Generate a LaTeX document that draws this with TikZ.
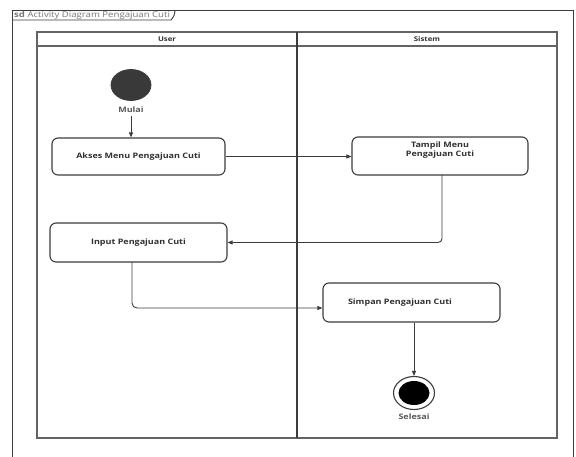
\documentclass[tikz,border=0pt]{standalone}
\usepackage{fontspec}
\setmainfont[FakeStretch=1.2]{Open Sans}
\usetikzlibrary{arrows.meta,shapes.geometric}
\definecolor{ln}{HTML}{3C3C3C}
\definecolor{tx}{HTML}{303030}
\begin{document}
\begin{tikzpicture}[x=1pt,y=-1pt,
  act/.style={draw=ln,line width=1.1pt,rounded corners=6pt,fill=white,inner sep=0pt},
  lbl/.style={font=\fontsize{7.5}{9.5}\selectfont\bfseries,text=tx,inner sep=0pt,align=center},
  flow/.style={draw=ln,line width=0.9pt,-{Triangle[length=5pt,width=4pt]}},
  lane/.style={draw=ln!80,line width=1.4pt}]
\useasboundingbox (0,0) rectangle (576,456);
\fill[white] (0,0) rectangle (576,456);
% frame
\draw[ln,line width=1pt] (12,470) -- (12,10) -- (573,10) -- (573,470);
\draw[ln,line width=0.9pt] (12,20) -- (171,20) .. controls (174,17) and (175,13) .. (175,10);
\node[anchor=west,inner sep=0pt,font=\fontsize{8}{9}\selectfont,text=ln!70] (title) at (14,15.5) {\textbf{sd} Activity Diagram Pengajuan Cuti};
% swimlanes
\draw[lane] (37,32) rectangle (557,438);
\draw[lane] (37,46) -- (557,46);
\draw[ln,line width=1.6pt] (297,32) -- (297,438);
\node[lbl,font=\fontsize{6.5}{8}\selectfont\bfseries] (huser) at (167,39) {User};
\node[lbl,font=\fontsize{6.5}{8}\selectfont\bfseries] (hsis) at (427,39) {Sistem};
% start
\node[draw=ln,line width=0.8pt,fill=ln!95!black,ellipse,minimum width=40pt,minimum height=31pt,inner sep=0pt] (start) at (131,85) {};
\node[lbl,text=ln!85] (mulai) at (131,110) {Mulai};
% activities
\node[act,minimum width=173pt,minimum height=37pt] (akses) at (138.5,156.5) {};
\node[lbl] at (akses) {Akses Menu Pengajuan Cuti};
\node[act,minimum width=176pt,minimum height=38pt] (tampil) at (440,156) {};
\node[lbl] at (440,150) {Tampil Menu\\Pengajuan Cuti};
\node[act,minimum width=177pt,minimum height=39pt] (input) at (138.5,242.5) {};
\node[lbl] at (input) {Input Pengajuan Cuti};
\node[act,minimum width=177pt,minimum height=39pt] (simpan) at (411.5,302.5) {};
\node[lbl] at (400,303) {Simpan Pengajuan Cuti};
% end
\node[draw=ln,line width=1.1pt,fill=white,ellipse,minimum width=41pt,minimum height=33pt,inner sep=0pt] (end) at (414,393) {};
\node[fill=black,ellipse,minimum width=31pt,minimum height=24pt,inner sep=0pt] (endin) at (end) {};
\node[lbl,text=ln!85] (selesai) at (414,417) {Selesai};
% flows
\coordinate (m0) at (131,116);
\draw[flow] (m0) -- (m0 |- akses.north);
\draw[flow] (akses.east) -- (tampil.west |- akses.east);
\coordinate (t0) at (442,175);
\draw[flow,rounded corners=4pt] (t0) -- (t0 |- input.east) -- (input.east);
\coordinate (i0) at (132,262);
\coordinate (s0) at (simpan.west |- 0,308);
\draw[flow,rounded corners=5pt] (i0) -- (i0 |- s0) -- (s0);
\draw[flow] (end.north |- simpan.south) -- (end.north);
\end{tikzpicture}
\end{document}
